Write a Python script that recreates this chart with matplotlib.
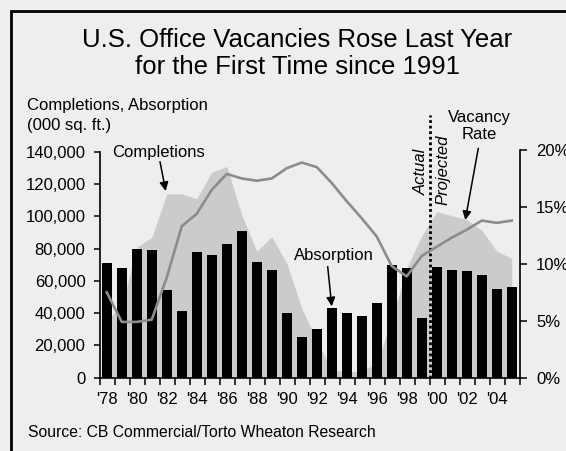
import numpy as np
import matplotlib
matplotlib.use('Agg')
import matplotlib.pyplot as plt
from matplotlib.patches import Rectangle
from matplotlib.ticker import FuncFormatter, FixedLocator

plt.rcParams['font.family'] = ['Liberation Sans', 'DejaVu Sans']

# data
years = list(range(1978, 2006))
year_labels = ["'%02d" % (y % 100) for y in years]
absorption = [71000, 68000, 80000, 79000, 54500, 41500, 78000, 76000, 83000, 91000,
              71500, 66500, 40000, 25000, 30000, 43500, 40000, 38500, 46500, 70000,
              68000, 36800, 68500, 67000, 66000, 63500, 54800, 56500]
completions = [36000, 44000, 81000, 87000, 114000, 114000, 111000, 127500, 131000, 101000,
               78500, 87500, 71000, 43000, 23000, 5000, 3500, 4000, 9000, 36000,
               68000, 88000, 103000, 100500, 98000, 91500, 78500, 74000]
vacancy = [7.5, 4.9, 4.9, 5.1, 8.8, 13.3, 14.4, 16.5, 17.9, 17.5,
           17.3, 17.5, 18.4, 18.9, 18.5, 17.1, 15.5, 14.0, 12.4, 9.8,
           8.9, 10.7, 11.5, 12.3, 13.0, 13.8, 13.6, 13.8]
first_projected = 2000

bg = '#eeeeee'
W, H = 566, 451
fig = plt.figure(figsize=(W / 100, H / 100), dpi=100, facecolor=bg)

# axes box in pixels: x 100..520, y 150..377.7
ax = fig.add_axes([100 / W, (H - 377.7) / H, 420 / W, 227.7 / H])
ax.set_facecolor('none')
x = np.arange(len(years))

ax.fill_between(x, completions, 0, color='#cbcbcb', lw=0, zorder=1)
ax.bar(x, absorption, width=0.66, color='black', zorder=2)

ax.set_xlim(-0.45, len(years) - 0.45)
ax.set_ylim(0, 140000 * 227.7 / 225.7)
ax.set_yticks(range(0, 140001, 20000))
ax.yaxis.set_major_formatter(FuncFormatter(lambda v, p: '{:,.0f}'.format(v)))
ax.set_xticks(x[::2])
ax.set_xticklabels(year_labels[::2])
ax.xaxis.set_minor_locator(FixedLocator(np.arange(len(years) + 1) - 0.45))
ax.tick_params(axis='x', which='major', length=0, pad=10, labelsize=12)
ax.tick_params(axis='x', which='minor', length=5, width=1.1, direction='out')
ax.tick_params(axis='y', length=4.5, width=1.1, pad=6, labelsize=12)
for s in ['top', 'right']:
    ax.spines[s].set_visible(False)
ax.spines['left'].set_bounds(0, 140000)
ax.spines['left'].set_linewidth(1.2)
ax.spines['bottom'].set_linewidth(1.2)

ax2 = ax.twinx()
ax2.plot(x, vacancy, color='#8c8c8c', lw=1.9, zorder=3)
ax2.set_ylim(0, 20)
ax2.set_yticks([0, 5, 10, 15, 20])
ax2.set_yticklabels(['%d%%' % v for v in [0, 5, 10, 15, 20]])
ax2.tick_params(axis='y', length=5, width=1.1, pad=6.5, labelsize=12)
for s in ['top', 'left', 'bottom']:
    ax2.spines[s].set_visible(False)
ax2.spines['right'].set_linewidth(1.2)

# actual / projected divider
split = years.index(first_projected) - 0.45
ax.plot([split, split], [0, 163000], color='black', lw=2, ls=(0, (1, 1)),
        clip_on=False, zorder=4)
ax.text(split - 0.1, 127600, 'Actual', rotation=90, style='italic', fontsize=12,
        ha='right', va='center')
ax.text(split + 0.35, 128800, 'Projected', rotation=90, style='italic', fontsize=12,
        ha='left', va='center')

arrow = dict(arrowstyle='-|>', color='black', lw=1.1, mutation_scale=13,
             shrinkA=0, shrinkB=0)
ax.text(3.44, 139800, 'Completions', fontsize=12, ha='center', va='center')
ax.annotate('', xy=(3.93, 115800), xytext=(3.55, 134000), arrowprops=arrow,
            annotation_clip=False)
ax.text(15.13, 76100, 'Absorption', fontsize=12, ha='center', va='center')
ax.annotate('', xy=(15.0, 44300), xytext=(14.73, 68900), arrowprops=arrow)
ax.text(24.82, 156200, 'Vacancy\nRate', fontsize=12, ha='center', va='center',
        linespacing=1.2)
ax.annotate('', xy=(23.9, 97800), xytext=(24.77, 142300), arrowprops=arrow,
            annotation_clip=False)

# titles and notes
fig.text(297.5 / W, 1 - 47.3 / H, 'U.S. Office Vacancies Rose Last Year',
         fontsize=18.5, ha='center', va='baseline')
fig.text(297.5 / W, 1 - 74.3 / H, 'for the First Time since 1991',
         fontsize=18.5, ha='center', va='baseline')
fig.text(27 / W, 1 - 110 / H, 'Completions, Absorption', fontsize=12,
         ha='left', va='baseline')
fig.text(27 / W, 1 - 130 / H, '(000 sq. ft.)', fontsize=12, ha='left', va='baseline')
fig.text(28 / W, 1 - 436.7 / H, 'Source: CB Commercial/Torto Wheaton Research',
         fontsize=11.3, ha='left', va='baseline')

# outer frame, cut off at right and bottom like the original
fig.patches.append(Rectangle((10.5 / W, -0.1), 1.2, 1.1 - 11.5 / H, fill=False,
                             ec='black', lw=2, transform=fig.transFigure,
                             figure=fig))

fig.savefig('out.png', dpi=100, facecolor=bg)
